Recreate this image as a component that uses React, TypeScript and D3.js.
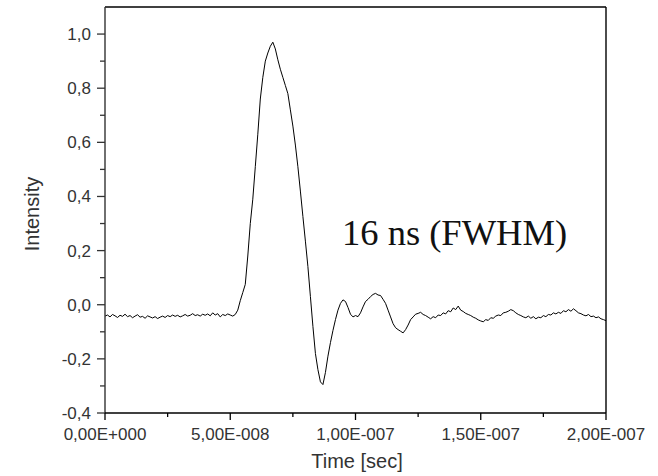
import React from "react";
import * as d3 from "d3";

// time in ns (1 ns steps, 0..200)
const intensity: number[] = [
  -0.042, -0.038, -0.045, -0.036, -0.041, -0.047, -0.039, -0.043, -0.035, -0.044,
  -0.040, -0.048, -0.042, -0.037, -0.046, -0.043, -0.050, -0.041, -0.045, -0.049,
  -0.044, -0.051, -0.046, -0.042, -0.047, -0.040, -0.044, -0.038, -0.043, -0.039,
  -0.045, -0.041, -0.036, -0.042, -0.039, -0.033, -0.040, -0.037, -0.042, -0.035,
  -0.039, -0.034, -0.041, -0.030, -0.038, -0.033, -0.045, -0.036, -0.040, -0.034,
  -0.038, -0.042, -0.036, -0.020, 0.015, 0.045, 0.075, 0.180, 0.300, 0.390,
  0.510, 0.630, 0.760, 0.840, 0.900, 0.930, 0.955, 0.970, 0.945, 0.905,
  0.870, 0.840, 0.810, 0.780, 0.720, 0.660, 0.590, 0.510, 0.420, 0.326,
  0.235, 0.141, 0.030, -0.080, -0.180, -0.240, -0.285, -0.295, -0.250, -0.190,
  -0.140, -0.095, -0.055, -0.020, 0.005, 0.018, 0.012, -0.010, -0.035, -0.045,
  -0.040, -0.044, -0.030, -0.008, 0.012, 0.020, 0.030, 0.038, 0.042, 0.036,
  0.034, 0.020, 0.005, -0.020, -0.045, -0.070, -0.085, -0.092, -0.098, -0.104,
  -0.092, -0.075, -0.055, -0.045, -0.035, -0.032, -0.028, -0.036, -0.040, -0.046,
  -0.052, -0.044, -0.048, -0.038, -0.040, -0.030, -0.034, -0.022, -0.026, -0.012,
  -0.018, -0.005, -0.020, -0.025, -0.032, -0.036, -0.040, -0.046, -0.050, -0.056,
  -0.060, -0.063, -0.055, -0.058, -0.048, -0.050, -0.042, -0.038, -0.040, -0.030,
  -0.028, -0.024, -0.018, -0.022, -0.030, -0.036, -0.040, -0.045, -0.048, -0.042,
  -0.050, -0.044, -0.052, -0.046, -0.048, -0.040, -0.044, -0.036, -0.038, -0.030,
  -0.034, -0.028, -0.032, -0.022, -0.026, -0.018, -0.024, -0.015, -0.022, -0.030,
  -0.033, -0.038, -0.041, -0.036, -0.044, -0.042, -0.048, -0.045, -0.052, -0.055,
  -0.059,
];
const timeNs: number[] = intensity.map((_, i) => i);

const xTicks: number[] = [0, 5e-8, 1e-7, 1.5e-7, 2e-7];
const xTickLabels: string[] = ["0,00E+000", "5,00E-008", "1,00E-007", "1,50E-007", "2,00E-007"];
const xMinorTicks: number[] = [2.5e-8, 7.5e-8, 1.25e-7, 1.75e-7];
const yTicks: number[] = [-0.4, -0.2, 0, 0.2, 0.4, 0.6, 0.8, 1.0];
const yTickLabels: string[] = ["-0,4", "-0,2", "0,0", "0,2", "0,4", "0,6", "0,8", "1,0"];
const yMinorTicks: number[] = [-0.3, -0.1, 0.1, 0.3, 0.5, 0.7, 0.9];

const W = 658;
const H = 476;
const left = 105, right = 606, top = 7, bottom = 413;

export default function App() {
  const x = d3.scaleLinear().domain([0, 2e-7]).range([left, right]);
  const y = d3.scaleLinear().domain([-0.4, 1.1]).range([bottom, top]);
  const line = d3
    .line<number>()
    .x((_, i) => x(timeNs[i] * 1e-9))
    .y((d) => y(d));
  const axisColor = "#333";
  const font = "'Liberation Sans', Arial, sans-serif";
  return (
    <svg width={W} height={H} style={{ position: "absolute", left: 0, top: 0 }}>
      <rect x={0} y={0} width={W} height={H} fill="#fff" />
      <path d={line(intensity) || ""} fill="none" stroke="#000" strokeWidth={1.0} />
      {/* frame */}
      <line x1={left} y1={top} x2={right} y2={top} stroke="#000" strokeWidth={1.4} />
      <line x1={right} y1={top} x2={right} y2={bottom} stroke="#000" strokeWidth={1.4} />
      <line x1={left} y1={top} x2={left} y2={bottom} stroke={axisColor} strokeWidth={1.4} />
      <line x1={left} y1={bottom} x2={right} y2={bottom} stroke="#000" strokeWidth={1.4} />
      {yTicks.map((t, i) => (
        <g key={"y" + i}>
          <line x1={left - 8} x2={left} y1={y(t)} y2={y(t)} stroke={axisColor} strokeWidth={1.3} />
          <text x={left - 14} y={y(t)} dy="0.35em" textAnchor="end" fontFamily={font} fontSize={17} fill="#333">
            {yTickLabels[i]}
          </text>
        </g>
      ))}
      {yMinorTicks.map((t, i) => (
        <line key={"ym" + i} x1={left - 5} x2={left} y1={y(t)} y2={y(t)} stroke={axisColor} strokeWidth={1.3} />
      ))}
      {xTicks.map((t, i) => (
        <g key={"x" + i}>
          <line x1={x(t)} x2={x(t)} y1={bottom} y2={bottom + 7} stroke="#000" strokeWidth={1.3} />
          <text x={x(t)} y={440} textAnchor="middle" fontFamily={font} fontSize={17} fill="#333">
            {xTickLabels[i]}
          </text>
        </g>
      ))}
      {xMinorTicks.map((t, i) => (
        <line key={"xm" + i} x1={x(t)} x2={x(t)} y1={bottom} y2={bottom + 4} stroke="#000" strokeWidth={1.3} />
      ))}
      <text x={357} y={468} textAnchor="middle" fontFamily={font} fontSize={20} fill="#333">
        Time [sec]
      </text>
      <text
        transform={`translate(39,214) rotate(-90)`}
        textAnchor="middle"
        fontFamily={font}
        fontSize={20}
        fill="#333"
      >
        Intensity
      </text>
      <text x={342} y={245} fontFamily="'Liberation Serif', 'Times New Roman', serif" fontSize={36.5} fill="#111">
        16 ns (FWHM)
      </text>
    </svg>
  );
}
